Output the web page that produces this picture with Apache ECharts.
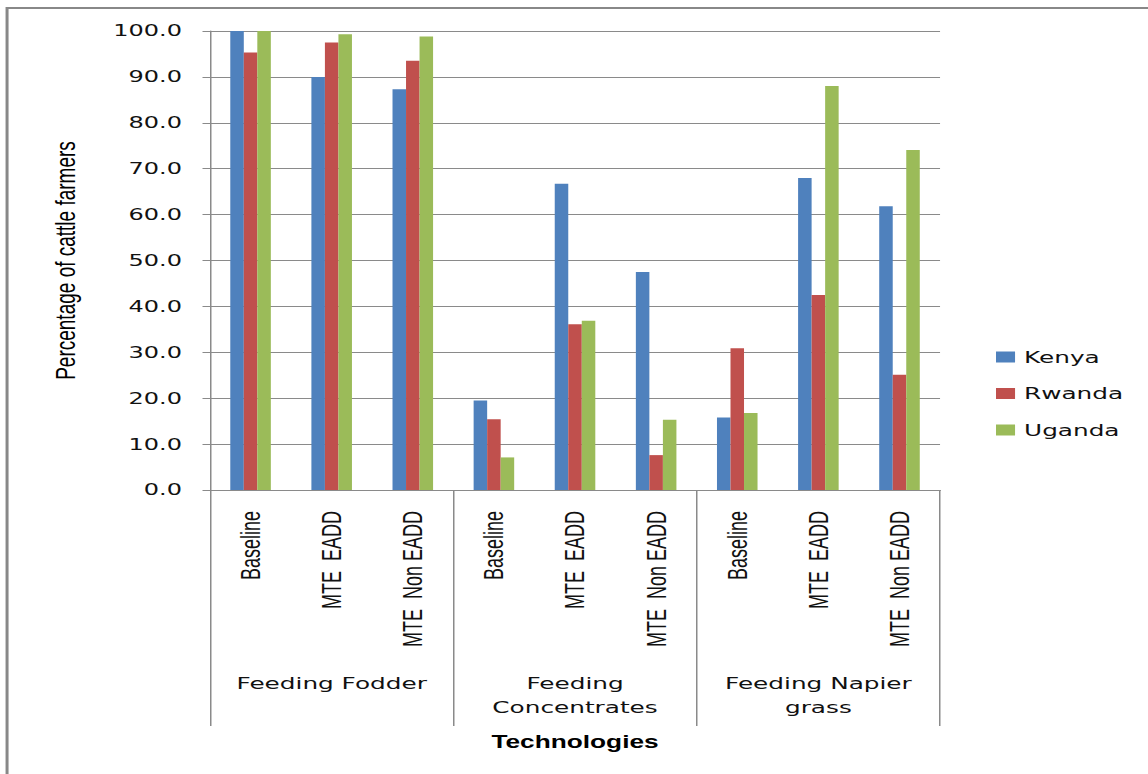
<!DOCTYPE html>
<html>
<head>
<meta charset="utf-8">
<script src="https://cdn.jsdelivr.net/npm/echarts@6/dist/echarts.min.js"></script>
<style>
html,body{margin:0;padding:0;background:#fff;overflow:hidden;}
#wrap{width:1148px;height:774px;overflow:hidden;position:relative;}
#chart{width:766px;height:774px;transform:scaleX(1.5);transform-origin:0 0;}
</style>
</head>
<body>
<div id="wrap"><div id="chart"></div></div>
<script>
const subCategories = ['Baseline', 'MTE  EADD', 'MTE  Non EADD',
                       'Baseline', 'MTE  EADD', 'MTE  Non EADD',
                       'Baseline', 'MTE  EADD', 'MTE  Non EADD'];
const groups = ['Feeding Fodder', 'Feeding\nConcentrates', 'Feeding Napier\ngrass'];
const seriesNames = ['Kenya', 'Rwanda', 'Uganda'];
const kenya  = [100.0, 90.0, 87.3, 19.5, 66.7, 47.5, 15.8, 68.0, 61.8];
const rwanda = [95.3, 97.5, 93.5, 15.4, 36.1, 7.6, 30.9, 42.5, 25.1];
const uganda = [100.0, 99.3, 98.8, 7.1, 36.9, 15.3, 16.8, 88.0, 74.1];
const colors = ['#4F81BD', '#C0504D', '#9BBB59'];
const yTicks = {min: 0, max: 100, interval: 10};

const chart = echarts.init(document.getElementById('chart'), null, {renderer: 'svg'});
const gridColor = '#8a8a8a';
const option = {
  animation: false,
  color: colors,
  graphic: [{
    type: 'rect',
    shape: {x: 4.7, y: 8, width: 800, height: 800},
    style: {fill: 'none', stroke: '#888', lineWidth: 2},
    silent: true
  }],
  grid: {left: 140, right: 139.3, top: 31, bottom: 284, containLabel: false},
  legend: {
    orient: 'vertical',
    left: 659, top: 343,
    itemWidth: 12.7, itemHeight: 11, itemGap: 18.5,
    icon: 'rect',
    textStyle: {fontFamily: 'DejaVu Sans', fontSize: 16.5, color: '#111', lineHeight: 18, padding: [0, 0, 0, 1]},
    data: seriesNames
  },
  xAxis: [{
    type: 'category',
    data: subCategories,
    axisLine: {lineStyle: {color: gridColor, width: 1}},
    axisTick: {show: false},
    axisLabel: {
      interval: 0, rotate: 90, margin: 21,
      fontFamily: 'Liberation Sans', fontSize: 18, color: '#111'
    }
  }, {
    type: 'category',
    data: groups,
    position: 'bottom',
    axisLine: {show: true, lineStyle: {color: gridColor, width: 1}},
    axisTick: {show: true, length: 236, interval: 0, lineStyle: {color: gridColor, width: 1}},
    axisLabel: {
      interval: 0, margin: 181,
      fontFamily: 'DejaVu Sans', fontSize: 16.5, color: '#111', lineHeight: 24
    },
    name: 'Technologies',
    nameLocation: 'middle',
    nameGap: 243,
    nameTextStyle: {fontFamily: 'Liberation Sans', fontWeight: 'bold', fontSize: 17.5, color: '#000'}
  }],
  yAxis: {
    type: 'value',
    min: yTicks.min, max: yTicks.max, interval: yTicks.interval,
    axisLine: {show: true, lineStyle: {color: gridColor, width: 1}},
    axisTick: {show: true, length: 5, lineStyle: {color: gridColor}},
    splitLine: {lineStyle: {color: gridColor, width: 1}},
    axisLabel: {
      margin: 18.7,
      fontFamily: 'DejaVu Sans', fontSize: 16, color: '#111',
      formatter: v => v.toFixed(1)
    },
    name: 'Percentage of cattle farmers',
    nameLocation: 'middle',
    nameGap: 87,
    nameTextStyle: {fontFamily: 'Liberation Sans', fontSize: 19, color: '#000'}
  },
  series: [kenya, rwanda, uganda].map((d, i) => ({
    name: seriesNames[i],
    type: 'bar',
    xAxisIndex: 0,
    data: d,
    barGap: '0%',
    barCategoryGap: '50%',
    itemStyle: {color: colors[i]}
  }))
};
chart.setOption(option);
</script>
</body>
</html>
